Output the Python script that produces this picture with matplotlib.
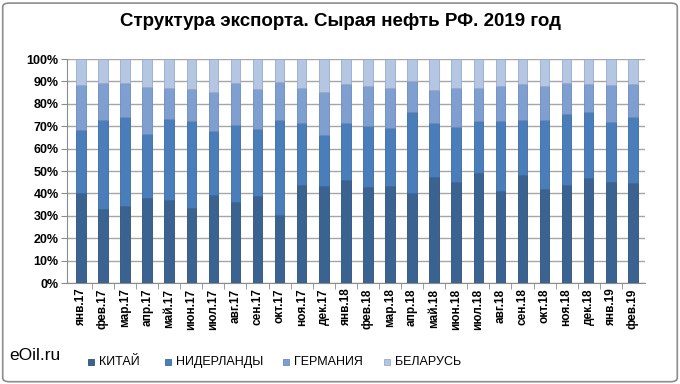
import matplotlib
matplotlib.use("Agg")
import matplotlib.pyplot as plt
import numpy as np
from matplotlib.patches import FancyBboxPatch, Rectangle
from matplotlib.ticker import PercentFormatter

months = ["янв.17", "фев.17", "мар.17", "апр.17", "май.17", "июн.17", "июл.17",
          "авг.17", "сен.17", "окт.17", "ноя.17", "дек.17", "янв.18", "фев.18",
          "мар.18", "апр.18", "май.18", "июн.18", "июл.18", "авг.18", "сен.18",
          "окт.18", "ноя.18", "дек.18", "янв.19", "фев.19"]

# shares, %
china = [40.0, 33.0, 34.3, 37.9, 37.2, 33.4, 39.3, 36.3, 38.7, 30.4, 43.6, 43.2, 46.1,
         43.0, 43.2, 40.0, 47.2, 45.2, 49.0, 40.9, 48.2, 41.8, 43.8, 46.7, 44.9, 44.5]
netherlands = [28.2, 39.7, 39.6, 28.8, 36.1, 39.0, 28.5, 34.3, 30.1, 42.5, 27.7, 23.0, 25.5,
               27.2, 26.0, 36.5, 24.1, 24.4, 23.5, 31.3, 24.7, 31.0, 31.8, 29.6, 27.1, 29.6]
germany = [20.2, 16.8, 15.5, 20.8, 13.6, 14.0, 17.3, 18.5, 17.8, 16.8, 15.8, 18.9, 17.1,
           17.7, 18.0, 13.7, 14.9, 17.6, 14.7, 15.7, 15.9, 15.1, 13.5, 12.4, 16.2, 14.6]
belarus = [11.6, 10.5, 10.6, 12.5, 13.1, 13.6, 14.9, 10.9, 13.4, 10.3, 12.9, 14.9, 11.3,
           12.1, 12.8, 9.8, 13.8, 12.8, 12.8, 12.1, 11.2, 12.1, 10.9, 11.3, 11.8, 11.3]

names = ["КИТАЙ", "НИДЕРЛАНДЫ", "ГЕРМАНИЯ", "БЕЛАРУСЬ"]
colors = ["#3b6391", "#4a7ebb", "#7e9fcf", "#b5c6e2"]
edges = ["#2f5079", "#3d6aa0", "#6a8bbb", "#97abcf"]

series = [np.array(s) for s in (china, netherlands, germany, belarus)]
total = sum(series)
series = [s / total for s in series]

W, H = 680, 384
fig = plt.figure(figsize=(6.8, 3.84), dpi=100)
fig.patch.set_facecolor("white")
fig.add_artist(FancyBboxPatch((0.004, 0.006), 0.992, 0.986, boxstyle="round,pad=0,rounding_size=0.01",
                              transform=fig.transFigure, facecolor="none",
                              edgecolor="#8c8c8c", linewidth=1.2))

ax = fig.add_axes([67 / W, 101 / H, 578 / W, 224 / H])
x = np.arange(len(months))
bottom = np.zeros(len(months))
for s, name, c, e in zip(series, names, colors, edges):
    ax.bar(x, s, 0.43, bottom=bottom, color=c, edgecolor=e, linewidth=0.6, label=name, zorder=3)
    bottom += s

ax.set_xlim(-0.63, 25.55)
ax.set_ylim(0, 1.0)
ax.set_yticks(np.arange(0, 1.01, 0.1))
ax.yaxis.set_major_formatter(PercentFormatter(1.0, decimals=0))
ax.grid(axis="y", color="#a6a6a6", linewidth=1.0, zorder=0)
ax.set_xticks(x)
ax.set_xticklabels(months, rotation=90, fontsize=8.5, fontweight="bold",
                   family=["Liberation Sans", "DejaVu Sans"])
ax.set_xticks(x[:-1] + 0.5, minor=True)
ax.tick_params(axis="x", which="major", length=0, pad=4)
ax.tick_params(axis="x", which="minor", length=4, color="#8c8c8c", direction="out")
ax.tick_params(axis="y", length=4, color="#8c8c8c", pad=2)
for lab in ax.get_yticklabels():
    lab.set_fontsize(9)
    lab.set_fontweight("bold")
    lab.set_family(["Liberation Sans", "DejaVu Sans"])
for side in ("top", "right"):
    ax.spines[side].set_visible(False)
for side in ("left", "bottom"):
    ax.spines[side].set_color("#8c8c8c")

fig.text(0.5, 1 - 22 / H, "Структура экспорта. Сырая нефть РФ. 2019 год", ha="center", va="center",
         fontsize=13.5, fontweight="bold", family=["Liberation Sans", "DejaVu Sans"])
fig.text(9 / W, 1 - 356 / H, "eOil.ru", ha="left", va="center", fontsize=12.5,
         family=["Liberation Sans", "DejaVu Sans"])

# legend, placed by hand
leg_x = [88, 165, 283, 384]
for lx, name, c, e in zip(leg_x, names, colors, edges):
    fig.add_artist(Rectangle((lx / W, (H - 365) / H), 6 / W, 6 / H, transform=fig.transFigure,
                             facecolor=c, edgecolor=e, linewidth=0.6))
    fig.text((lx + 11) / W, 1 - 362 / H, name, ha="left", va="center", fontsize=9,
             family=["DejaVu Sans Condensed", "Liberation Sans", "DejaVu Sans"])

fig.savefig("out.png", dpi=100)
